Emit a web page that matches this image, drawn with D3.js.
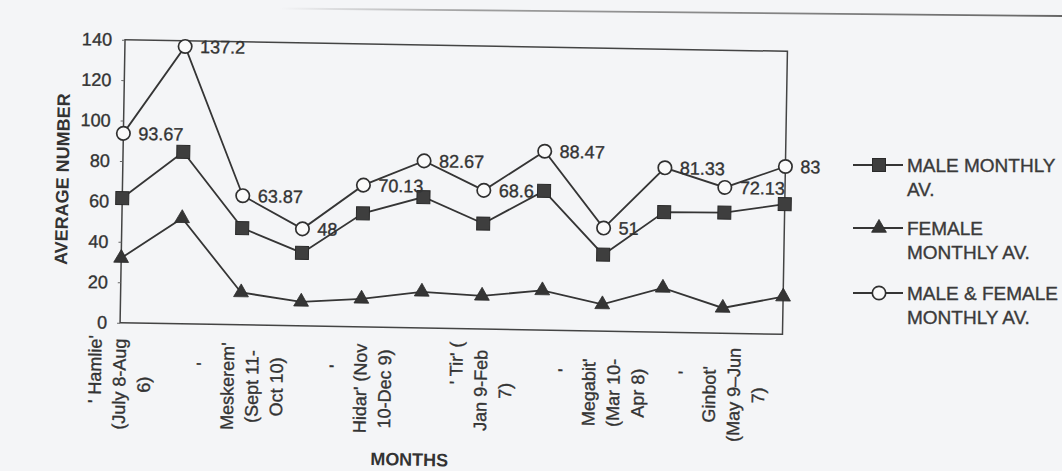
<!DOCTYPE html>
<html>
<head>
<meta charset="utf-8">
<script src="https://cdn.jsdelivr.net/npm/d3@7/dist/d3.min.js"></script>
<style>
  html, body { margin: 0; padding: 0; background: #f4f5f7; }
  svg { display: block; font-family: "Liberation Sans", Arial, Helvetica, sans-serif; }
  .t { paint-order: stroke; stroke: #333; stroke-width: 0.35px; }
</style>
</head>
<body>
<svg id="chart" width="1062" height="471"></svg>
<script>
// ---- data ----
const months = ["Hamle", "Nehase", "Meskerem", "Tikimt", "Hidar", "Tahsas",
                "Tir", "Yekatit", "Megabit", "Miazia", "Ginbot", "Sene"];
const combinedAv = [93.67, 137.2, 63.87, 48, 70.13, 82.67, 68.6, 88.47, 51, 81.33, 72.13, 83];
const femaleAv   = [32, 52.2, 16, 11.9, 13.9, 17.9, 16.4, 19.6, 13.2, 21.9, 12.5, 18.6];
const maleAv     = [61.67, 85.0, 47.87, 36.1, 56.23, 64.77, 52.2, 68.87, 37.8, 59.43, 59.63, 64.4];
const yTicks = [0, 20, 40, 60, 80, 100, 120, 140];
const tickLabels = [
  ["' Hamlie'", "(July 8-Aug", "6)"], null,
  ["'", "Meskerem'", "(Sept 11-", "Oct 10)"], null,
  ["'", "Hidar' (Nov", "10-Dec 9)"], null,
  ["' Tir' (", "Jan 9-Feb", "7)"], null,
  ["'", "Megabit'", "(Mar 10-", "Apr 8)"], null,
  ["'", "Ginbot'", "(May 9–Jun", "7)"], null
];
const seriesNames = [["MALE MONTHLY", "AV."], ["FEMALE", "MONTHLY AV."], ["MALE & FEMALE", "MONTHLY AV."]];
const yTitle = "AVERAGE NUMBER";
const xTitle = "MONTHS";

// ---- layout ----
const ink = "#333";
const plot = { left: 122.5, right: 785, top: 45.5, bottom: 328.5 };
const svg = d3.select("#chart");

// faint page edge line from the scan
const defs = svg.append("defs");
const grad = defs.append("linearGradient").attr("id", "edge").attr("x1", "0%").attr("x2", "100%");
grad.append("stop").attr("offset", "0%").attr("stop-color", "#888").attr("stop-opacity", 0);
grad.append("stop").attr("offset", "25%").attr("stop-color", "#888").attr("stop-opacity", 0.8);
grad.append("stop").attr("offset", "100%").attr("stop-color", "#666").attr("stop-opacity", 1);
svg.append("line").attr("x1", 280).attr("y1", 8.5).attr("x2", 1062).attr("y2", 16)
  .attr("stroke", "url(#edge)").attr("stroke-width", 1.8);

const g = svg.append("g").attr("transform", "rotate(1, 453.5, 187)");

const x = d3.scalePoint().domain(months).range([plot.left, plot.right]).padding(0);
const y = d3.scaleLinear().domain([0, 140]).range([plot.bottom, plot.top]);

// frame
g.append("rect")
  .attr("x", plot.left).attr("y", plot.top)
  .attr("width", plot.right - plot.left).attr("height", plot.bottom - plot.top)
  .attr("fill", "none").attr("stroke", "#444").attr("stroke-width", 1.5);

// y axis
const yAxis = g.append("g").attr("transform", `translate(${plot.left},0)`)
  .call(d3.axisLeft(y).tickValues(yTicks).tickSize(3).tickPadding(10));
yAxis.select(".domain").remove();
yAxis.selectAll(".tick line").attr("stroke", "#666");
yAxis.selectAll(".tick text")
  .attr("class", "t")
  .attr("font-size", 18).attr("fill", ink)
  .attr("font-family", "'Liberation Sans', Arial, sans-serif");

// y title
g.append("text")
  .attr("transform", `translate(68.5, 186) rotate(-90)`)
  .attr("text-anchor", "middle")
  .attr("font-size", 18).attr("font-weight", "bold").attr("fill", ink)
  .text(yTitle);

// x tick labels (rotated, wrapped)
const lineGap = 24.5;
const labelMid = plot.bottom + 61.5;
months.forEach((m, i) => {
  const lines = tickLabels[i];
  if (!lines) return;
  const n = lines.length;
  lines.forEach((txt, j) => {
    const cx = x(m) + (j - (n - 1) / 2) * lineGap;
    let anchor = "middle", cy = labelMid;
    if (j === 0) {
      if (txt === "'") { cy = plot.bottom + 40; }
      else { anchor = "end"; cy = plot.bottom + 13; }
    }
    g.append("text")
      .attr("class", "t")
      .attr("transform", `translate(${cx}, ${cy}) rotate(-90)`)
      .attr("dy", "0.35em")
      .attr("text-anchor", anchor)
      .attr("font-size", 18).attr("fill", ink)
      .text(txt);
  });
});

// x title
g.append("text")
  .attr("x", 414).attr("y", 466.5)
  .attr("text-anchor", "middle")
  .attr("font-size", 18).attr("font-weight", "bold").attr("fill", ink)
  .text(xTitle);

// lines
const line = d3.line().x((d, i) => x(months[i])).y(d => y(d));
[combinedAv, maleAv, femaleAv].forEach(s => {
  g.append("path").datum(s).attr("d", line)
    .attr("fill", "none").attr("stroke", "#353535").attr("stroke-width", 1.8);
});

// markers
const sq = 13;
g.selectAll(".sq").data(maleAv).join("rect").attr("class", "sq")
  .attr("x", (d, i) => x(months[i]) - sq / 2).attr("y", d => y(d) - sq / 2)
  .attr("width", sq).attr("height", sq)
  .attr("fill", "#3e3e3e").attr("stroke", "#2a2a2a").attr("stroke-width", 1);

const tri = d3.symbol().type(d3.symbolTriangle).size(95);
g.selectAll(".tri").data(femaleAv).join("path").attr("class", "tri")
  .attr("transform", (d, i) => `translate(${x(months[i])}, ${y(d)})`)
  .attr("d", tri).attr("fill", "#353535").attr("stroke", "#2a2a2a").attr("stroke-width", 0.8);

g.selectAll(".circ").data(combinedAv).join("circle").attr("class", "circ")
  .attr("cx", (d, i) => x(months[i])).attr("cy", d => y(d)).attr("r", 6.7)
  .attr("fill", "#fafafa").attr("stroke", "#303030").attr("stroke-width", 1.7);

// data labels on combined series
g.selectAll(".lbl").data(combinedAv).join("text").attr("class", "lbl t")
  .attr("x", (d, i) => x(months[i]) + 15).attr("y", d => y(d))
  .attr("dy", "0.35em")
  .attr("font-size", 18).attr("fill", ink)
  .text(d => String(d));

// legend
const legendRows = [165, 228, 293];
const lg = svg.append("g");
seriesNames.forEach((names, k) => {
  const ly = legendRows[k];
  lg.append("line").attr("x1", 853).attr("x2", 903).attr("y1", ly).attr("y2", ly)
    .attr("stroke", "#353535").attr("stroke-width", 1.8);
  if (k === 0) {
    lg.append("rect").attr("x", 879 - sq / 2).attr("y", ly - sq / 2).attr("width", sq).attr("height", sq)
      .attr("fill", "#3e3e3e").attr("stroke", "#2a2a2a");
  } else if (k === 1) {
    lg.append("path").attr("transform", `translate(879, ${ly})`).attr("d", tri)
      .attr("fill", "#353535").attr("stroke", "#2a2a2a").attr("stroke-width", 0.8);
  } else {
    lg.append("circle").attr("cx", 879).attr("cy", ly).attr("r", 6.7)
      .attr("fill", "#fafafa").attr("stroke", "#303030").attr("stroke-width", 1.7);
  }
  names.forEach((t, j) => {
    lg.append("text").attr("class", "t").attr("x", 907).attr("y", ly + j * 24.5).attr("dy", "0.35em")
      .attr("font-size", 19).attr("fill", "#3a3a3a").text(t);
  });
});
</script>
</body>
</html>
